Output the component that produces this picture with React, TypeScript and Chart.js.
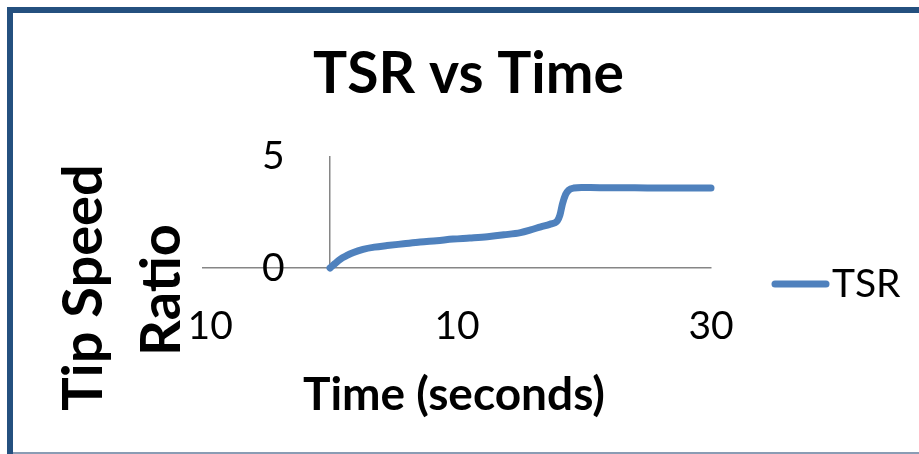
import React, { useEffect, useRef } from "react";
import { Chart, registerables } from "chart.js";

Chart.register(...registerables);

// Data
const timeSeconds = [0, 0.4, 0.8, 1.3, 1.8, 2.6, 3.5, 4.5, 5.8, 7.1, 8.4, 9.7, 11, 12.4, 13.7, 15, 15.8, 16.6, 17.3, 17.9, 18.1, 18.3, 18.55, 18.8, 19.2, 19.8, 20.5, 22, 24, 26, 28, 30];
const tipSpeedRatio = [0, 0.2, 0.39, 0.55, 0.68, 0.83, 0.93, 1.0, 1.08, 1.16, 1.22, 1.29, 1.34, 1.4, 1.48, 1.58, 1.7, 1.84, 1.95, 2.1, 2.35, 2.85, 3.28, 3.48, 3.57, 3.59, 3.59, 3.58, 3.58, 3.57, 3.57, 3.57];

const xTickValues = [-10, 10, 30];
const yTickValues = [0, 5];
const yAxisCrossesAt = 0;

const chartTitle = "TSR vs Time";
const xAxisTitle = "Time (seconds)";
const yAxisTitleLines = ["Tip Speed", "Ratio"];
const seriesName = "TSR";

const LINE_COLOR = "#4F81BD";
const AXIS_COLOR = "#868686";
const FONT = "Lato";

const decorPlugin = {
  id: "decor",
  beforeDraw(chart: any) {
    const ctx = chart.ctx;
    ctx.save();
    ctx.fillStyle = "#ffffff";
    ctx.fillRect(0, 0, chart.width, chart.height);
    ctx.fillStyle = "#24507F";
    ctx.fillRect(7, 7, 6, chart.height - 7);
    ctx.fillRect(7, 7, chart.width - 7, 6);
    ctx.fillStyle = "#8A9CB4";
    ctx.fillRect(13, 452, chart.width - 13, 2);
    ctx.restore();
  },
  afterDraw(chart: any) {
    const ctx = chart.ctx;
    ctx.save();
    ctx.fillStyle = "#000000";
    ctx.textBaseline = "alphabetic";
    // chart title
    ctx.font = `bold 57px ${FONT}`;
    ctx.textAlign = "center";
    ctx.fillText(chartTitle, 468.5, 93);
    // x axis title
    ctx.font = `bold 46px ${FONT}`;
    ctx.fillText(xAxisTitle, 454, 410);
    // y axis title (two lines, rotated, on a white text box)
    const ySize = 56;
    ctx.font = `bold ${ySize}px ${FONT}`;
    const yPos = [
      [102, 287.5],
      [180, 290],
    ];
    yAxisTitleLines.forEach((line, i) => {
      const w = ctx.measureText(line).width;
      ctx.save();
      ctx.translate(yPos[i][0], yPos[i][1]);
      ctx.rotate(-Math.PI / 2);
      ctx.fillStyle = "#ffffff";
      ctx.fillRect(-w / 2 - 2, -ySize * 0.78, w + 4, ySize * 0.78 + ySize * 0.2);
      ctx.fillStyle = "#000000";
      ctx.fillText(line, 0, 0);
      ctx.restore();
    });
    // legend
    ctx.strokeStyle = LINE_COLOR;
    ctx.lineWidth = 7;
    ctx.lineCap = "round";
    ctx.beginPath();
    ctx.moveTo(775, 284);
    ctx.lineTo(826, 284);
    ctx.stroke();
    ctx.font = `39px ${FONT}`;
    ctx.textAlign = "left";
    ctx.fillText(seriesName, 832, 297);
    ctx.restore();
  },
};

export default function App() {
  const canvasRef = useRef<HTMLCanvasElement | null>(null);

  useEffect(() => {
    if (!canvasRef.current) return;
    const points = timeSeconds.map((t, i) => ({ x: t, y: tipSpeedRatio[i] }));
    const chart = new Chart(canvasRef.current, {
      type: "scatter",
      data: {
        datasets: [
          {
            label: seriesName,
            data: points,
            showLine: true,
            borderColor: LINE_COLOR,
            backgroundColor: LINE_COLOR,
            borderWidth: 7,
            borderCapStyle: "round",
            borderJoinStyle: "round",
            pointRadius: 0,
            cubicInterpolationMode: "monotone",
            clip: false,
          } as any,
        ],
      },
      options: {
        animation: false,
        responsive: false,
        maintainAspectRatio: false,
        events: [],
        layout: {
          padding: { left: 203, right: 208, top: 156, bottom: 86 },
        },
        plugins: {
          legend: { display: false },
          title: { display: false },
          tooltip: { enabled: false },
        },
        scales: {
          x: {
            type: "linear",
            position: "bottom",
            min: -10,
            max: 30,
            afterBuildTicks: (scale: any) => {
              const vals = [...xTickValues, yAxisCrossesAt].sort((a, b) => a - b);
              scale.ticks = vals.map((v) => ({ value: v }));
            },
            afterFit: (scale: any) => {
              scale.height = 100;
              scale.paddingLeft = 0;
              scale.paddingRight = 0;
            },
            grid: {
              display: true,
              drawTicks: false,
              lineWidth: 1.5,
              color: (c: any) => (c.tick && c.tick.value === yAxisCrossesAt ? AXIS_COLOR : "rgba(0,0,0,0)"),
            },
            border: { display: true, color: AXIS_COLOR, width: 1.5 },
            ticks: {
              padding: 35,
              color: "#000000",
              font: { family: FONT, size: 39 },
              maxRotation: 0,
              autoSkip: false,
              callback: (v: any) => (xTickValues.includes(Number(v)) ? String(v) : ""),
            },
          },
          y: {
            type: "linear",
            position: "left",
            min: 0,
            max: 5,
            afterBuildTicks: (scale: any) => {
              scale.ticks = yTickValues.map((v) => ({ value: v }));
            },
            afterFit: (scale: any) => {
              scale.width = 0;
              scale.paddingTop = 0;
              scale.paddingBottom = 0;
            },
            grid: { display: false, drawTicks: false },
            border: { display: false },
            ticks: {
              mirror: true,
              padding: 59,
              color: "#000000",
              font: { family: FONT, size: 39 },
              callback: (v: any) => String(v),
            },
          },
        },
      },
      plugins: [decorPlugin],
    });
    return () => chart.destroy();
  }, []);

  return (
    <div style={{ position: "fixed", left: 0, top: 0, width: 919, height: 454, background: "#fff" }}>
      <canvas ref={canvasRef} width={919} height={454} style={{ display: "block" }} />
    </div>
  );
}
